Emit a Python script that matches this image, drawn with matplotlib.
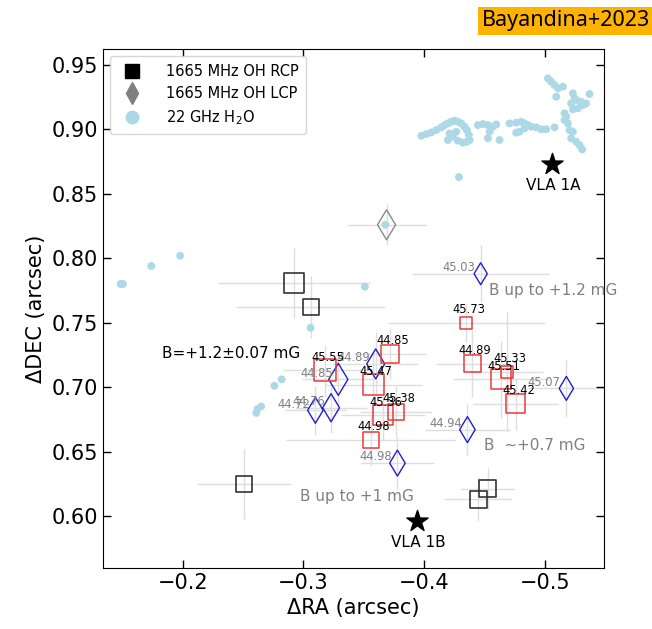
import matplotlib
matplotlib.use('Agg')
import matplotlib.pyplot as plt
from matplotlib.lines import Line2D

# OH 1665 MHz RCP (black, no Zeeman pair)
rcp_x = [-0.292, -0.306, -0.251, -0.453, -0.445]
rcp_y = [0.781, 0.762, 0.625, 0.621, 0.613]
rcp_xerr = [0.063, 0.062, 0.039, 0.022, 0.028]
rcp_yerr = [0.027, 0.024, 0.027, 0.016, 0.017]
rcp_size = [14.4, 11.5, 11.5, 12.2, 12.2]

# OH 1665 MHz LCP (gray, unpaired)
lcp_x = [-0.369]
lcp_y = [0.826]
lcp_xerr = [0.033]
lcp_yerr = [0.016]
lcp_size = [15.3]

# Zeeman pairs: LCP (blue diamonds) and RCP (red squares), labels = velocity
blue_x = [-0.329, -0.310, -0.323, -0.360, -0.378, -0.447, -0.518, -0.436]
blue_y = [0.706, 0.682, 0.684, 0.718, 0.641, 0.788, 0.699, 0.667]
blue_lab = ['44.85', '44.72', '44.76', '44.89', '44.98', '45.03', '45.07', '44.94']
blue_xerr = [0.03, 0.025, 0.03, 0.035, 0.03, 0.057, 0.032, 0.035]
blue_yerr = [0.02, 0.019, 0.02, 0.025, 0.02, 0.022, 0.022, 0.02]
blue_size = [16.3, 13.2, 14.3, 15.3, 13.2, 11.2, 12.2, 13.2]

red_x = [-0.318, -0.372, -0.358, -0.366, -0.377, -0.356, -0.435, -0.440, -0.469, -0.464, -0.476]
red_y = [0.713, 0.726, 0.702, 0.678, 0.681, 0.659, 0.750, 0.718, 0.712, 0.706, 0.687]
red_lab = ['45.55', '44.85', '45.47', '45.36', '45.38', '44.98', '45.73', '44.89', '45.33', '45.51', '45.42']
red_xerr = [0.035, 0.03, 0.04, 0.035, 0.03, 0.07, 0.065, 0.03, 0.03, 0.04, 0.035]
red_yerr = [0.02, 0.02, 0.025, 0.02, 0.02, 0.02, 0.015, 0.026, 0.047, 0.03, 0.02]
red_size = [15.8, 13, 15.1, 14.4, 11.5, 11.5, 8.6, 12.2, 8.6, 14.4, 13.7]

# 22 GHz H2O masers
h2o_x = [-0.3978, -0.4019, -0.4060, -0.4102, -0.4143, -0.4171, -0.4198, -0.4226, -0.4254, -0.4281,
         -0.4309, -0.4336, -0.4356, -0.4372, -0.4378, -0.4356, -0.4323, -0.4281, -0.4240, -0.4212,
         -0.4198, -0.4267,
         -0.4447, -0.4488, -0.4530, -0.4571, -0.4599, -0.4544, -0.4530, -0.4626, -0.4709, -0.4764,
         -0.4806, -0.4833, -0.4861, -0.4889, -0.4930, -0.4972, -0.5013, -0.5082, -0.4764, -0.4792,
         -0.4833,
         -0.5027, -0.5054, -0.5082, -0.5110, -0.5151, -0.5096, -0.5234, -0.5248, -0.5262, -0.5220,
         -0.5303, -0.5372, -0.5344, -0.5317, -0.5275, -0.5234, -0.5165, -0.5179, -0.5165, -0.5193,
         -0.5206, -0.5234, -0.5220, -0.5262, -0.5289, -0.5311,
         -0.1486, -0.1505, -0.174, -0.198, -0.306, -0.351, -0.368, -0.282, -0.276, -0.265,
         -0.262, -0.261, -0.429]
h2o_y = [0.8951, 0.8964, 0.8977, 0.8995, 0.9016, 0.9034, 0.9047, 0.9060, 0.9068, 0.9060,
         0.9047, 0.9021, 0.8995, 0.8957, 0.8918, 0.8905, 0.8897, 0.8913, 0.8944, 0.8969,
         0.8918, 0.8982,
         0.9034, 0.9042, 0.9034, 0.9021, 0.9039, 0.8982, 0.8931, 0.8918, 0.9047, 0.9052,
         0.9060, 0.9047, 0.9034, 0.9021, 0.9016, 0.9001, 0.9001, 0.9016, 0.8975, 0.8982,
         0.9008,
         0.9396, 0.9371, 0.9345, 0.9319, 0.9332, 0.9254, 0.9280, 0.9241, 0.9228, 0.9202,
         0.9215, 0.9275, 0.9202, 0.9189, 0.9164, 0.9156, 0.9125, 0.9099, 0.9073, 0.9047,
         0.8995, 0.8982, 0.8931, 0.8905, 0.8879, 0.8845,
         0.780, 0.780, 0.794, 0.802, 0.746, 0.778, 0.826, 0.706, 0.701, 0.685,
         0.683, 0.680, 0.863]

# continuum sources
star_x = [-0.506, -0.394]
star_y = [0.873, 0.596]
star_names = ['VLA 1A', 'VLA 1B']

fig, ax = plt.subplots(figsize=(6.52, 6.29), dpi=100)
fig.subplots_adjust(left=0.158, right=0.926, bottom=0.097, top=0.922)

ecol = '#dedede'
ax.errorbar(rcp_x, rcp_y, xerr=rcp_xerr, yerr=rcp_yerr, fmt='none', ecolor=ecol, lw=1, zorder=1)
ax.errorbar(lcp_x, lcp_y, xerr=lcp_xerr, yerr=lcp_yerr, fmt='none', ecolor=ecol, lw=1, zorder=1)
ax.errorbar(blue_x, blue_y, xerr=blue_xerr, yerr=blue_yerr, fmt='none', ecolor=ecol, lw=1, zorder=1)
ax.errorbar(red_x, red_y, xerr=red_xerr, yerr=red_yerr, fmt='none', ecolor=ecol, lw=1, zorder=1)

ax.scatter(h2o_x, h2o_y, s=32, color='lightblue', edgecolors='none', zorder=2)

ax.scatter(rcp_x, rcp_y, s=[m**2 for m in rcp_size], marker='s', facecolors='none',
           edgecolors='#333333', linewidths=1.2, zorder=3)
ax.scatter(lcp_x, lcp_y, s=[m**2 for m in lcp_size], marker='d', facecolors='none',
           edgecolors='#8a8a8a', linewidths=1.0, zorder=3)
ax.scatter(blue_x, blue_y, s=[m**2 for m in blue_size], marker='d', facecolors='none',
           edgecolors='#1f1fd0', linewidths=1.0, zorder=3)
ax.scatter(red_x, red_y, s=[m**2 for m in red_size], marker='s', facecolors='none',
           edgecolors='#e83a3a', linewidths=1.1, zorder=3)

for i in range(len(blue_x)):
    ax.annotate(blue_lab[i], (blue_x[i], blue_y[i]), xytext=(-4, 2), textcoords='offset points',
                ha='right', va='baseline', fontsize=8.3, color='gray', zorder=4)
for i in range(len(red_x)):
    ax.annotate(red_lab[i], (red_x[i], red_y[i]), xytext=(2, 7), textcoords='offset points',
                ha='center', va='baseline', fontsize=8.3, color='black', zorder=4)

ax.scatter(star_x, star_y, s=16**2, marker='*', color='black', zorder=5)
for i in range(len(star_x)):
    ax.annotate(star_names[i], (star_x[i], star_y[i]), xytext=(1, -10), textcoords='offset points',
                ha='center', va='top', fontsize=11)

ax.text(-0.183, 0.726, 'B=+1.2\u00b10.07 mG', fontsize=11, va='center', ha='left')
ax.text(-0.454, 0.775, 'B up to +1.2 mG', fontsize=11, va='center', ha='left', color='gray')
ax.text(-0.450, 0.655, 'B  ~+0.7 mG', fontsize=11, va='center', ha='left', color='gray')
ax.text(-0.297, 0.615, 'B up to +1 mG', fontsize=11, va='center', ha='left', color='gray')

ax.set_xlim(-0.134, -0.549)
ax.set_ylim(0.5596, 0.9624)
ax.set_xticks([-0.2, -0.3, -0.4, -0.5])
ax.set_yticks([0.60, 0.65, 0.70, 0.75, 0.80, 0.85, 0.90, 0.95])
ax.set_yticklabels(['0.60', '0.65', '0.70', '0.75', '0.80', '0.85', '0.90', '0.95'])
ax.tick_params(direction='in', top=True, right=True, labelsize=15, length=6, width=1)
ax.set_xlabel('\u0394RA (arcsec)', fontsize=15)
ax.set_ylabel('\u0394DEC (arcsec)', fontsize=15)

handles = [Line2D([], [], marker='s', color='black', ls='none', ms=10),
           Line2D([], [], marker='d', color='gray', ls='none', ms=11),
           Line2D([], [], marker='o', color='lightblue', ls='none', ms=9)]
ax.legend(handles, ['1665 MHz OH RCP', '1665 MHz OH LCP', '22 GHz H$_2$O'],
          loc='upper left', fontsize=10.5, borderaxespad=0.5, handletextpad=1.3,
          borderpad=0.5)

fig.text(0.997, 0.967, 'Bayandina+2023', fontsize=15.5, family='Noto Sans', ha='right', va='center',
         bbox=dict(facecolor='#ffb300', edgecolor='none', pad=2.5))

fig.savefig('out.png', dpi=100)
